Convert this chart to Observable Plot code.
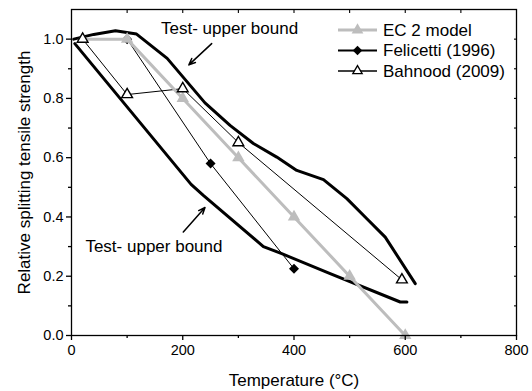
<!DOCTYPE html>
<html>
<head>
<meta charset="utf-8">
<script src="https://cdn.jsdelivr.net/npm/d3@7"></script>
<script src="https://cdn.jsdelivr.net/npm/@observablehq/plot@0.6"></script>
<style>
  body { margin: 0; background: white; }
  #wrap { position: relative; width: 532px; height: 391px; font-family: "Liberation Sans", Arial, sans-serif; }
  #legend { position: absolute; left: 0; top: 0; }
</style>
</head>
<body>
<div id="wrap"><div id="chart"></div><svg id="legend" width="532" height="100"></svg></div>
<script>
// ---- data ----
const ecTemp = [20, 100, 200, 300, 400, 500, 600];
const ecVal  = [1.0, 1.0, 0.8, 0.6, 0.4, 0.2, 0.0];

const felTemp = [100, 250, 400];
const felVal  = [1.0, 0.58, 0.225];

const bahTemp = [20, 100, 200, 300, 594];
const bahVal  = [1.0, 0.813, 0.833, 0.651, 0.188];

const upperTemp = [4, 40, 79, 117, 172, 240, 285, 327, 369, 405, 453, 495, 531, 564, 618];
const upperVal  = [1.0, 1.016, 1.028, 1.017, 0.935, 0.785, 0.709, 0.648, 0.602, 0.557, 0.526, 0.462, 0.394, 0.332, 0.175];

const lowerTemp = [6, 215, 237, 345, 378, 465, 591, 603];
const lowerVal  = [0.985, 0.51, 0.473, 0.30, 0.276, 0.209, 0.113, 0.113];

const seriesNames = ["EC 2 model", "Felicetti (1996)", "Bahnood (2009)"];

const xMajor = [0, 200, 400, 600, 800];
const xMinor = [100, 300, 500, 700];
const yMajor = [0, 0.2, 0.4, 0.6, 0.8, 1.0];
const yMinor = [0.1, 0.3, 0.5, 0.7, 0.9];
const xTop = [100, 200, 300, 400, 500, 600, 700];
const yRight = [0.1, 0.2, 0.3, 0.4, 0.5, 0.6, 0.7, 0.8, 0.9, 1.0];

const xLabel = "Temperature (°C)";
const yLabel = "Relative splitting tensile strength";

// annotations: text and arrows
const annText = ["Test- upper bound", "Test- upper bound"];
const annX = [161, 25];
const annY = [1.036, 0.30];
const arrX1 = [252, 201], arrY1 = [0.985, 0.349];
const arrX2 = [211, 240], arrY2 = [0.913, 0.432];

// ---- tables ----
const zip = (xs, ys) => xs.map((x, i) => ({x, y: ys[i]}));
const ec = zip(ecTemp, ecVal);
const fel = zip(felTemp, felVal);
const bah = zip(bahTemp, bahVal);
const upper = zip(upperTemp, upperVal);
const lower = zip(lowerTemp, lowerVal);
const ann = annText.map((t, i) => ({t, x: annX[i], y: annY[i]}));
const arrows = arrX1.map((_, i) => ({x1: arrX1[i], y1: arrY1[i], x2: arrX2[i], y2: arrY2[i]}));

const GRAY = "#bdbdbd";

const chart = Plot.plot({
  width: 532,
  height: 391,
  marginTop: 9,
  marginRight: 16,
  marginBottom: 56,
  marginLeft: 71,
  style: {fontFamily: "'Liberation Sans', Arial, sans-serif", fontSize: "14.5px", color: "black", background: "white"},
  x: {domain: [0, 800]},
  y: {domain: [0, 1.1]},
  marks: [
    Plot.line(upper, {x: "x", y: "y", stroke: "black", strokeWidth: 3, curve: "linear"}),
    Plot.line(lower, {x: "x", y: "y", stroke: "black", strokeWidth: 3, curve: "linear"}),
    Plot.line(fel, {x: "x", y: "y", stroke: "black", strokeWidth: 1}),
    Plot.line(bah, {x: "x", y: "y", stroke: "black", strokeWidth: 1}),
    Plot.dot(fel, {x: "x", y: "y", symbol: "square", rotate: 45, r: 4, fill: "black", stroke: "none"}),
    Plot.line(ec, {x: "x", y: "y", stroke: GRAY, strokeWidth: 3}),
    Plot.dot(ec, {x: "x", y: "y", symbol: "triangle", r: 4.6, fill: GRAY, stroke: "none"}),
    Plot.dot(bah, {x: "x", y: "y", symbol: "triangle", r: 4, fill: "white", stroke: "black", strokeWidth: 1.4}),
    Plot.text(ann, {x: "x", y: "y", text: "t", textAnchor: "start", fontSize: 17, fill: "black"}),
    Plot.arrow(arrows, {x1: "x1", y1: "y1", x2: "x2", y2: "y2", stroke: "black", strokeWidth: 1.5, headLength: 7, headAngle: 45}),
    Plot.frame({stroke: "black", strokeWidth: 1.3}),
    Plot.axisX({ticks: xMajor, tickSize: 5, tickPadding: 4, tickFormat: d3.format("d"), label: null, strokeWidth: 1.3}),
    Plot.axisX({ticks: xMinor, tickSize: 3, tickFormat: () => "", label: null, strokeWidth: 1.3}),
    Plot.axisX({anchor: "top", ticks: xTop, tickSize: -3, tickFormat: () => "", label: null, strokeWidth: 1.1}),
    Plot.axisY({ticks: yMajor, tickSize: 5, tickPadding: 3, tickFormat: d3.format(".1f"), label: null, strokeWidth: 1.3}),
    Plot.axisY({ticks: yMinor, tickSize: 3, tickFormat: () => "", label: null, strokeWidth: 1.3}),
    Plot.axisY({anchor: "right", ticks: yRight, tickSize: -3, tickFormat: () => "", label: null, strokeWidth: 1.1}),
    Plot.text([xLabel], {frameAnchor: "bottom", textAnchor: "middle", lineAnchor: "middle", dy: 45, fontSize: 17, fill: "black"}),
    Plot.text([yLabel], {frameAnchor: "left", textAnchor: "middle", lineAnchor: "middle", rotate: -90, dx: -47, fontSize: 17, fill: "black"})
  ]
});
document.getElementById("chart").appendChild(chart);

// ---- legend overlay ----
const legendStyles = [
  {stroke: GRAY, sw: 3, sym: d3.symbolTriangle, size: 60, fill: GRAY, mstroke: "none", rot: 0},
  {stroke: "black", sw: 1.8, sym: d3.symbolSquare, size: 45, fill: "black", mstroke: "none", rot: 45},
  {stroke: "black", sw: 1.5, sym: d3.symbolTriangle, size: 38, fill: "white", mstroke: "black", rot: 0}
];
const lg = d3.select("#legend");
const rowY = [30, 50.5, 71];
seriesNames.forEach((name, i) => {
  const s = legendStyles[i];
  const g = lg.append("g").attr("transform", `translate(0,${rowY[i]})`);
  g.append("line").attr("x1", 338).attr("x2", 377).attr("y1", 0).attr("y2", 0)
    .attr("stroke", s.stroke).attr("stroke-width", s.sw);
  g.append("path").attr("d", d3.symbol(s.sym, s.size)())
    .attr("transform", `translate(357.5,0) rotate(${s.rot})`)
    .attr("fill", s.fill).attr("stroke", s.mstroke).attr("stroke-width", 1.3);
  g.append("text").attr("x", 383).attr("y", 0).attr("dy", "0.35em")
    .attr("font-size", 17).attr("font-family", "'Liberation Sans', Arial, sans-serif")
    .attr("fill", "black").text(name);
});
</script>
</body>
</html>
